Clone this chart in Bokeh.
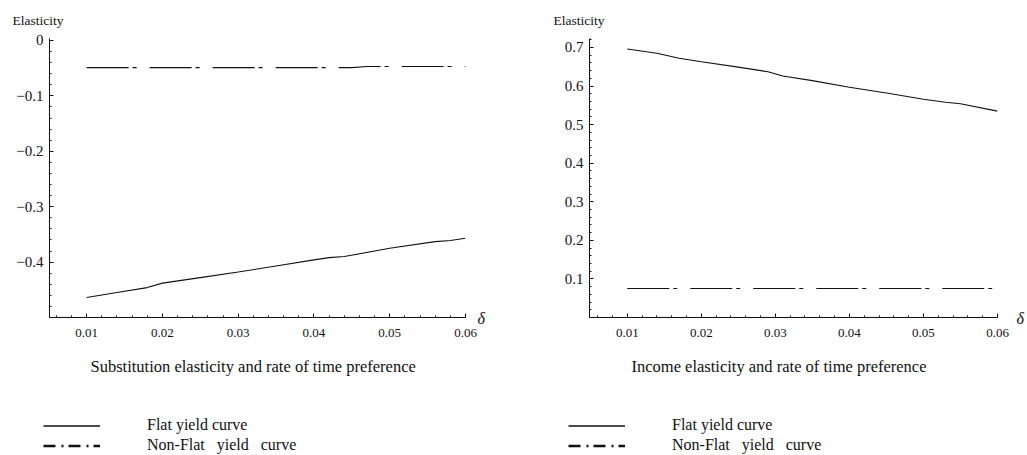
import numpy as np
from bokeh.plotting import figure
from bokeh.models import FixedTicker, Label, Legend, LegendItem, Range1d, Title
from bokeh.layouts import row, column
from bokeh.embed import file_html
from bokeh.resources import INLINE

# ---------------- data ----------------
# Substitution elasticity vs rate of time preference (delta)
sub_flat_x = [0.010, 0.014, 0.018, 0.020, 0.025, 0.030, 0.035, 0.040, 0.042, 0.044, 0.050, 0.056, 0.058, 0.060]
sub_flat_y = [-0.464, -0.455, -0.446, -0.438, -0.428, -0.418, -0.407, -0.396, -0.392, -0.390, -0.375, -0.363, -0.361, -0.357]
sub_nonflat_x = [0.010, 0.020, 0.030, 0.040, 0.045, 0.047, 0.050, 0.060]
sub_nonflat_y = [-0.049, -0.049, -0.049, -0.049, -0.049, -0.047, -0.047, -0.047]

# Income elasticity vs rate of time preference (delta)
inc_flat_x = [0.010, 0.014, 0.017, 0.020, 0.025, 0.029, 0.031, 0.035, 0.040, 0.045, 0.050, 0.053, 0.055, 0.060]
inc_flat_y = [0.696, 0.685, 0.672, 0.663, 0.649, 0.637, 0.626, 0.614, 0.597, 0.582, 0.566, 0.558, 0.554, 0.535]
inc_nonflat_x = [0.010, 0.020, 0.030, 0.040, 0.050, 0.060]
inc_nonflat_y = [0.075, 0.075, 0.075, 0.075, 0.075, 0.075]

x_ticks = [0.01, 0.02, 0.03, 0.04, 0.05, 0.06]
x_tick_labels = ["0.01", "0.02", "0.03", "0.04", "0.05", "0.06"]
sub_y_ticks = [0, -0.1, -0.2, -0.3, -0.4]
sub_y_tick_labels = ["0", "\u22120.1", "\u22120.2", "\u22120.3", "\u22120.4"]
inc_y_ticks = [0.1, 0.2, 0.3, 0.4, 0.5, 0.6, 0.7]
inc_y_tick_labels = ["0.1", "0.2", "0.3", "0.4", "0.5", "0.6", "0.7"]

y_label = "Elasticity"
x_symbol = "\u03b4"
sub_title = "Substitution elasticity and rate of time preference"
inc_title = "Income elasticity and rate of time preference"
legend_labels = ["Flat yield curve", "Non-Flat   yield   curve"]

SERIF = "Liberation Serif"
INK = "#111111"
FRAME_H = 279
MAIN_H = 415
LEG_H = 40
TOP = 38
FLAT_STYLE = dict(line_color=INK, line_width=1.1)
NONFLAT_STYLE = dict(line_color=INK, line_width=1.1, line_dash="42 4 4 13")
LEG_FLAT_STYLE = dict(line_color=INK, line_width=1.3)
LEG_NONFLAT_STYLE = dict(line_color=INK, line_width=2.5, line_dash="12 6 2 5")


def make_panel(flat_x, flat_y, nf_x, nf_y, x_start, y_start, y_end,
               y_ticks, y_labels, y_minor, frame_w, b_left, b_right,
               title, title_off, ylab_off, delta_off):
    p = figure(frame_width=frame_w, frame_height=FRAME_H,
               min_border_left=b_left, min_border_right=b_right,
               min_border_top=TOP, min_border_bottom=MAIN_H - TOP - FRAME_H,
               x_range=Range1d(x_start, 0.06), y_range=Range1d(y_start, y_end),
               output_backend="svg", toolbar_location=None)
    p.outline_line_color = None
    p.grid.visible = False
    p.background_fill_color = "white"
    p.border_fill_color = "white"

    p.line(flat_x, flat_y, **FLAT_STYLE)
    p.line(nf_x, nf_y, **NONFLAT_STYLE)

    x_minor = list(np.round(np.arange(0.006, 0.0601, 0.002), 4))
    p.xaxis.ticker = FixedTicker(ticks=x_ticks, minor_ticks=x_minor)
    p.xaxis.major_label_overrides = dict(zip(x_ticks, x_tick_labels))
    p.yaxis.ticker = FixedTicker(ticks=y_ticks, minor_ticks=y_minor)
    p.yaxis.major_label_overrides = dict(zip(y_ticks, y_labels))

    for ax in (p.xaxis, p.yaxis):
        ax.axis_line_color = INK
        ax.axis_line_width = 1
        ax.major_tick_line_color = INK
        ax.minor_tick_line_color = INK
        ax.major_tick_in = 4
        ax.major_tick_out = 0
        ax.minor_tick_in = 2
        ax.minor_tick_out = 0
        ax.major_label_text_font = SERIF
        ax.major_label_text_color = INK
    p.xaxis.major_label_text_font_size = "13px"
    p.xaxis.major_label_standoff = 11
    p.yaxis.major_label_text_font_size = "15px"
    p.yaxis.major_label_standoff = 6

    # "Elasticity" above the y axis
    p.add_layout(Title(text=y_label, align="left", offset=ylab_off,
                       vertical_align="top", standoff=17,
                       text_font=SERIF, text_font_size="13.5px",
                       text_font_style="normal", text_color=INK), "above")

    # caption below the axis
    p.add_layout(Title(text=title, align="left", offset=title_off,
                       vertical_align="top", standoff=35,
                       text_font=SERIF, text_font_size="16.5px",
                       text_font_style="normal", text_color=INK), "below")

    # delta symbol at the end of the x axis
    p.add_layout(Label(x=0.06, y=y_start, x_offset=delta_off, y_offset=-1,
                       text=x_symbol, text_font=SERIF, text_font_size="16px",
                       text_font_style="italic", text_baseline="middle",
                       text_color=INK), "right")
    return p


def make_legend_fig(width, legend_x, flat_x, flat_y, nf_x, nf_y):
    # legend-only strip; the series are drawn outside its (hidden) ranges
    q = figure(width=width, height=LEG_H, min_border=0,
               x_range=Range1d(10, 11), y_range=Range1d(10, 11),
               x_axis_location=None, y_axis_location=None,
               output_backend="svg", toolbar_location=None)
    q.outline_line_color = None
    q.grid.visible = False
    q.background_fill_color = "white"
    q.border_fill_color = "white"
    leg_flat = q.line(flat_x, flat_y, **LEG_FLAT_STYLE)
    leg_nf = q.line(nf_x, nf_y, **LEG_NONFLAT_STYLE)
    legend = Legend(items=[LegendItem(label=legend_labels[0], renderers=[leg_flat]),
                           LegendItem(label=legend_labels[1], renderers=[leg_nf])],
                    location=(legend_x, 1), glyph_width=57, glyph_height=15,
                    label_height=15, label_standoff=47, spacing=2, padding=0,
                    margin=0, border_line_color=None, background_fill_alpha=0,
                    label_text_font=SERIF, label_text_font_size="16px",
                    label_text_baseline="middle", label_text_color=INK)
    q.add_layout(legend)
    return q


sub_minor = list(np.round(np.arange(-0.5, 0.001, 0.02), 4))
inc_minor = list(np.round(np.arange(0.0, 0.7201, 0.02), 4))

p1 = make_panel(sub_flat_x, sub_flat_y, sub_nonflat_x, sub_nonflat_y,
                0.0051, -0.5, 0.0036, sub_y_ticks, sub_y_tick_labels, sub_minor,
                416, 49, 48, sub_title, 41, -37, 12)
p2 = make_panel(inc_flat_x, inc_flat_y, inc_nonflat_x, inc_nonflat_y,
                0.0049, 0.0, 0.7233, inc_y_ticks, inc_y_tick_labels, inc_minor,
                408, 76, 29, inc_title, 42, -36, 19)

l1 = make_legend_fig(513, 43, sub_flat_x, sub_flat_y, sub_nonflat_x, sub_nonflat_y)
l2 = make_legend_fig(513, 55, inc_flat_x, inc_flat_y, inc_nonflat_x, inc_nonflat_y)

layout = column(row(p1, p2), row(l1, l2))
open("out.html", "w").write(file_html(layout, INLINE))
